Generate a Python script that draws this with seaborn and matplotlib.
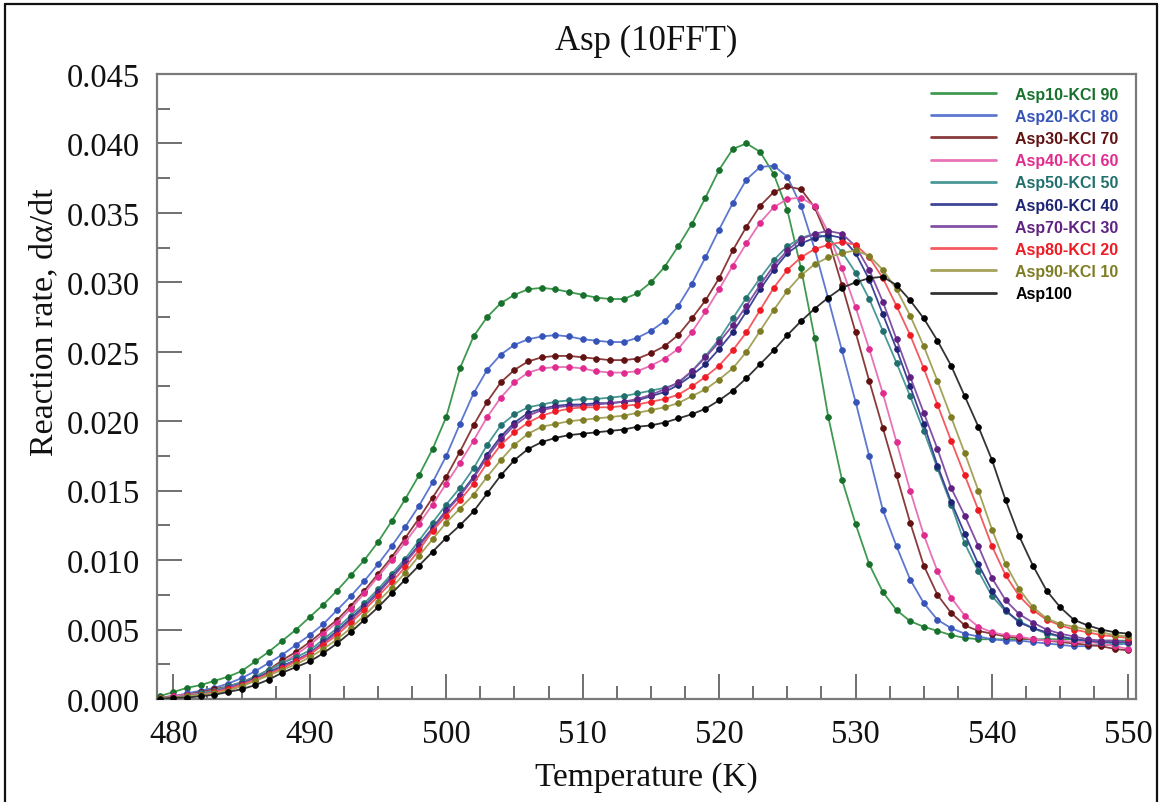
import numpy as np
import pandas as pd
import matplotlib
matplotlib.use("Agg")
import matplotlib.pyplot as plt
import seaborn as sns
from matplotlib.lines import Line2D
from matplotlib.ticker import MultipleLocator, FormatStrFormatter

# ---------------- data ----------------
temperature = list(range(479, 551))

asp10_kcl90 = [0.0002, 0.0005, 0.0008, 0.0010, 0.0013, 0.0016, 0.0020, 0.0027, 0.0034, 0.0042,
               0.0050, 0.0059, 0.0068, 0.0078, 0.0089, 0.0100, 0.0113, 0.0128, 0.0144, 0.0161,
               0.0180, 0.0203, 0.0238, 0.0261, 0.0275, 0.0285, 0.0291, 0.0295, 0.0296, 0.0295,
               0.0293, 0.0291, 0.0289, 0.0288, 0.0288, 0.0292, 0.0300, 0.0311, 0.0326, 0.0342,
               0.0361, 0.0381, 0.0396, 0.0400, 0.0394, 0.0378, 0.0352, 0.0310, 0.0260, 0.0203,
               0.0158, 0.0126, 0.0097, 0.0077, 0.0064, 0.0056, 0.0052, 0.0049, 0.0046, 0.0044,
               0.0043, 0.0043, 0.0043, 0.0043, 0.0043, 0.0043, 0.0043, 0.0043, 0.0042, 0.0042,
               0.0042, 0.0042]
asp20_kcl80 = [0.0001, 0.0002, 0.0004, 0.0006, 0.0008, 0.0011, 0.0015, 0.0020, 0.0026, 0.0032,
               0.0039, 0.0046, 0.0054, 0.0064, 0.0074, 0.0085, 0.0097, 0.0110, 0.0124, 0.0139,
               0.0156, 0.0175, 0.0198, 0.0220, 0.0237, 0.0248, 0.0255, 0.0259, 0.0261, 0.0262,
               0.0261, 0.0259, 0.0258, 0.0257, 0.0257, 0.0260, 0.0265, 0.0272, 0.0283, 0.0299,
               0.0318, 0.0338, 0.0357, 0.0374, 0.0383, 0.0384, 0.0376, 0.0355, 0.0324, 0.0288,
               0.0251, 0.0214, 0.0175, 0.0136, 0.0110, 0.0086, 0.0069, 0.0057, 0.0051, 0.0047,
               0.0045, 0.0043, 0.0042, 0.0042, 0.0041, 0.0040, 0.0039, 0.0038, 0.0038, 0.0039,
               0.0039, 0.0040]
asp30_kcl70 = [0.0001, 0.0002, 0.0003, 0.0005, 0.0007, 0.0009, 0.0012, 0.0016, 0.0021, 0.0028,
               0.0034, 0.0041, 0.0049, 0.0057, 0.0067, 0.0078, 0.0090, 0.0102, 0.0116, 0.0130,
               0.0145, 0.0160, 0.0178, 0.0197, 0.0214, 0.0228, 0.0237, 0.0243, 0.0246, 0.0247,
               0.0247, 0.0246, 0.0245, 0.0244, 0.0244, 0.0245, 0.0249, 0.0254, 0.0262, 0.0274,
               0.0287, 0.0303, 0.0323, 0.0340, 0.0355, 0.0365, 0.0369, 0.0367, 0.0354, 0.0331,
               0.0298, 0.0264, 0.0229, 0.0195, 0.0161, 0.0127, 0.0096, 0.0075, 0.0062, 0.0053,
               0.0049, 0.0047, 0.0045, 0.0044, 0.0043, 0.0042, 0.0041, 0.0040, 0.0039, 0.0038,
               0.0036, 0.0035]
asp40_kcl60 = [0.0001, 0.0002, 0.0003, 0.0004, 0.0006, 0.0008, 0.0011, 0.0015, 0.0020, 0.0026,
               0.0032, 0.0039, 0.0047, 0.0055, 0.0065, 0.0076, 0.0088, 0.0100, 0.0113, 0.0126,
               0.0140, 0.0155, 0.0170, 0.0186, 0.0203, 0.0217, 0.0228, 0.0235, 0.0238, 0.0239,
               0.0239, 0.0238, 0.0236, 0.0235, 0.0235, 0.0236, 0.0240, 0.0245, 0.0252, 0.0264,
               0.0279, 0.0295, 0.0312, 0.0328, 0.0343, 0.0354, 0.0360, 0.0361, 0.0355, 0.0336,
               0.0310, 0.0282, 0.0252, 0.0220, 0.0185, 0.0150, 0.0118, 0.0092, 0.0073, 0.0060,
               0.0052, 0.0048, 0.0046, 0.0045, 0.0043, 0.0042, 0.0042, 0.0041, 0.0041, 0.0040,
               0.0038, 0.0036]
asp50_kcl50 = [0.0001, 0.0001, 0.0002, 0.0004, 0.0006, 0.0009, 0.0012, 0.0016, 0.0021, 0.0026,
               0.0030, 0.0035, 0.0043, 0.0051, 0.0060, 0.0069, 0.0079, 0.0090, 0.0101, 0.0114,
               0.0127, 0.0140, 0.0152, 0.0166, 0.0183, 0.0197, 0.0205, 0.0210, 0.0212, 0.0214,
               0.0215, 0.0216, 0.0216, 0.0217, 0.0218, 0.0220, 0.0222, 0.0224, 0.0227, 0.0236,
               0.0247, 0.0259, 0.0274, 0.0289, 0.0303, 0.0316, 0.0326, 0.0332, 0.0335, 0.0332,
               0.0322, 0.0307, 0.0288, 0.0265, 0.0242, 0.0218, 0.0193, 0.0166, 0.0140, 0.0112,
               0.0092, 0.0074, 0.0063, 0.0056, 0.0051, 0.0047, 0.0045, 0.0043, 0.0042, 0.0041,
               0.0040, 0.0040]
asp60_kcl40 = [0.0001, 0.0001, 0.0002, 0.0003, 0.0005, 0.0008, 0.0011, 0.0015, 0.0019, 0.0024,
               0.0028, 0.0033, 0.0041, 0.0049, 0.0058, 0.0067, 0.0077, 0.0088, 0.0099, 0.0111,
               0.0123, 0.0136, 0.0147, 0.0160, 0.0176, 0.0189, 0.0199, 0.0206, 0.0209, 0.0211,
               0.0212, 0.0212, 0.0213, 0.0213, 0.0214, 0.0215, 0.0218, 0.0221, 0.0226, 0.0233,
               0.0241, 0.0252, 0.0264, 0.0279, 0.0295, 0.0309, 0.0321, 0.0328, 0.0332, 0.0334,
               0.0332, 0.0321, 0.0302, 0.0277, 0.0252, 0.0225, 0.0198, 0.0168, 0.0142, 0.0119,
               0.0097, 0.0078, 0.0064, 0.0055, 0.0051, 0.0048, 0.0045, 0.0043, 0.0042, 0.0041,
               0.0041, 0.0041]
asp70_kcl30 = [0.0001, 0.0001, 0.0002, 0.0003, 0.0005, 0.0008, 0.0011, 0.0014, 0.0018, 0.0023,
               0.0028, 0.0033, 0.0040, 0.0048, 0.0057, 0.0066, 0.0076, 0.0087, 0.0098, 0.0110,
               0.0122, 0.0135, 0.0146, 0.0159, 0.0174, 0.0187, 0.0197, 0.0204, 0.0208, 0.0210,
               0.0211, 0.0211, 0.0212, 0.0213, 0.0214, 0.0216, 0.0219, 0.0223, 0.0228, 0.0236,
               0.0246, 0.0257, 0.0269, 0.0283, 0.0298, 0.0312, 0.0323, 0.0331, 0.0335, 0.0337,
               0.0335, 0.0326, 0.0309, 0.0286, 0.0259, 0.0232, 0.0206, 0.0180, 0.0152, 0.0132,
               0.0110, 0.0087, 0.0071, 0.0061, 0.0055, 0.0050, 0.0047, 0.0045, 0.0043, 0.0042,
               0.0042, 0.0041]
asp80_kcl20 = [0.0001, 0.0001, 0.0002, 0.0003, 0.0005, 0.0007, 0.0010, 0.0014, 0.0018, 0.0022,
               0.0027, 0.0032, 0.0039, 0.0046, 0.0055, 0.0064, 0.0074, 0.0084, 0.0095, 0.0107,
               0.0121, 0.0132, 0.0143, 0.0155, 0.0170, 0.0183, 0.0192, 0.0199, 0.0204, 0.0207,
               0.0209, 0.0210, 0.0210, 0.0210, 0.0211, 0.0212, 0.0214, 0.0216, 0.0219, 0.0225,
               0.0232, 0.0240, 0.0251, 0.0264, 0.0280, 0.0296, 0.0309, 0.0318, 0.0324, 0.0327,
               0.0329, 0.0327, 0.0318, 0.0303, 0.0283, 0.0262, 0.0238, 0.0212, 0.0186, 0.0161,
               0.0136, 0.0110, 0.0089, 0.0074, 0.0064, 0.0057, 0.0053, 0.0050, 0.0048, 0.0046,
               0.0045, 0.0044]
asp90_kcl10 = [0.0001, 0.0001, 0.0002, 0.0003, 0.0004, 0.0006, 0.0009, 0.0013, 0.0017, 0.0021,
               0.0025, 0.0030, 0.0036, 0.0043, 0.0051, 0.0060, 0.0070, 0.0080, 0.0091, 0.0103,
               0.0115, 0.0127, 0.0137, 0.0147, 0.0160, 0.0172, 0.0183, 0.0191, 0.0196, 0.0198,
               0.0200, 0.0201, 0.0202, 0.0203, 0.0204, 0.0206, 0.0208, 0.0210, 0.0213, 0.0218,
               0.0223, 0.0230, 0.0238, 0.0250, 0.0265, 0.0280, 0.0294, 0.0305, 0.0313, 0.0318,
               0.0321, 0.0323, 0.0319, 0.0309, 0.0295, 0.0276, 0.0254, 0.0229, 0.0203, 0.0177,
               0.0150, 0.0122, 0.0097, 0.0079, 0.0066, 0.0058, 0.0054, 0.0052, 0.0050, 0.0048,
               0.0046, 0.0045]
asp100 = [0.0000, 0.0001, 0.0001, 0.0002, 0.0003, 0.0005, 0.0007, 0.0010, 0.0014, 0.0019,
          0.0023, 0.0027, 0.0033, 0.0040, 0.0048, 0.0057, 0.0066, 0.0076, 0.0086, 0.0096,
          0.0106, 0.0116, 0.0125, 0.0135, 0.0148, 0.0161, 0.0172, 0.0180, 0.0185, 0.0188,
          0.0190, 0.0191, 0.0192, 0.0193, 0.0194, 0.0196, 0.0197, 0.0199, 0.0202, 0.0205,
          0.0209, 0.0215, 0.0222, 0.0231, 0.0241, 0.0251, 0.0262, 0.0272, 0.0281, 0.0289,
          0.0296, 0.0300, 0.0303, 0.0304, 0.0298, 0.0287, 0.0274, 0.0258, 0.0240, 0.0218,
          0.0196, 0.0172, 0.0143, 0.0117, 0.0096, 0.0078, 0.0066, 0.0057, 0.0053, 0.0050,
          0.0048, 0.0047]

series_names = ["Asp10-KCl 90", "Asp20-KCl 80", "Asp30-KCl 70", "Asp40-KCl 60", "Asp50-KCl 50",
                "Asp60-KCl 40", "Asp70-KCl 30", "Asp80-KCl 20", "Asp90-KCl 10", "Asp100"]
series_values = [asp10_kcl90, asp20_kcl80, asp30_kcl70, asp40_kcl60, asp50_kcl50,
                 asp60_kcl40, asp70_kcl30, asp80_kcl20, asp90_kcl10, asp100]

x_ticks = [480, 490, 500, 510, 520, 530, 540, 550]
y_ticks = [0.000, 0.005, 0.010, 0.015, 0.020, 0.025, 0.030, 0.035, 0.040, 0.045]

# ---------------- styles ----------------
marker_colors = ["#17702B", "#3653B8", "#621212", "#E02C8F", "#22706E",
                 "#1E2574", "#5F2283", "#EE1B24", "#7F7D24", "#000000"]
line_colors = ["#3E9A4E", "#5C78D0", "#8A3A3A", "#E872B6", "#4A9896",
               "#3E4596", "#8450A6", "#F45A5F", "#A5A35A", "#333333"]

frames = []
for name, vals in zip(series_names, series_values):
    frames.append(pd.DataFrame({"T": temperature, "rate": vals, "series": name}))
df = pd.concat(frames, ignore_index=True)

sns.set_theme(style="white")
plt.rcParams["font.family"] = ["Liberation Serif", "DejaVu Serif"]

fig = plt.figure(figsize=(11.6, 8.03), dpi=100)
ax = fig.add_axes([0.1353, 0.1283, 0.844, 0.7783])

for i, name in enumerate(series_names):
    sub = df[df["series"] == name]
    sns.lineplot(data=sub, x="T", y="rate", ax=ax, color=line_colors[i],
                 linewidth=1.3, marker="o", markersize=4.2,
                 markerfacecolor=marker_colors[i], markeredgecolor=marker_colors[i],
                 markeredgewidth=0.5, errorbar=None, legend=False, zorder=3 + i)

ax.set_xlim(478.8, 550.55)
ax.set_ylim(0.0, 0.045)
ax.set_xticks(x_ticks)
ax.set_yticks(y_ticks)
ax.xaxis.set_minor_locator(MultipleLocator(2.5))
ax.yaxis.set_minor_locator(MultipleLocator(0.0025))
ax.yaxis.set_major_formatter(FormatStrFormatter("%.3f"))

tick_col = "#707070"
ax.tick_params(which="major", direction="in", length=18, width=1.4, color=tick_col,
               labelsize=23.5, labelcolor="#111111", top=False, right=False,
               left=True, bottom=True)
ax.tick_params(axis="y", which="major", pad=12)
ax.tick_params(axis="x", which="major", pad=14)
ax.tick_params(which="minor", direction="in", length=9.5, width=1.4, color=tick_col,
               top=False, right=False, left=True, bottom=True)
for sp in ax.spines.values():
    sp.set_color("#7a7a7a")
    sp.set_linewidth(1.6)

ax.set_title("Asp (10FFT)", fontsize=25, pad=18, color="#111111")
ax.set_xlabel("Temperature (K)", fontsize=24, color="#111111")
ax.set_ylabel("Reaction rate, dα/dt", fontsize=24.5, color="#111111")
ax.xaxis.set_label_coords(0.5, -0.10)
ax.yaxis.set_label_coords(-0.10, 0.605)

handles = [Line2D([0], [0], color=c, lw=2.0) for c in line_colors]
leg = ax.legend(handles, series_names, loc="upper left", bbox_to_anchor=(0.787, 0.985),
                frameon=False, borderaxespad=0.0, borderpad=0.2,
                prop={"family": "Liberation Sans", "weight": "bold", "size": 11.5},
                handlelength=4.1, handletextpad=1.2, labelspacing=0.45)
for txt, c in zip(leg.get_texts(), marker_colors):
    txt.set_color(c)

# outer frame of the figure
for (xs, ys) in [((0.0043, 0.0043), (0.0, 0.9938)),
                 ((0.0043, 0.9975), (0.9938, 0.9938)),
                 ((0.9975, 0.9975), (0.0, 0.9938))]:
    fig.add_artist(Line2D(xs, ys, transform=fig.transFigure, color="#111111", lw=1.6))

fig.savefig("out.png", dpi=100)
